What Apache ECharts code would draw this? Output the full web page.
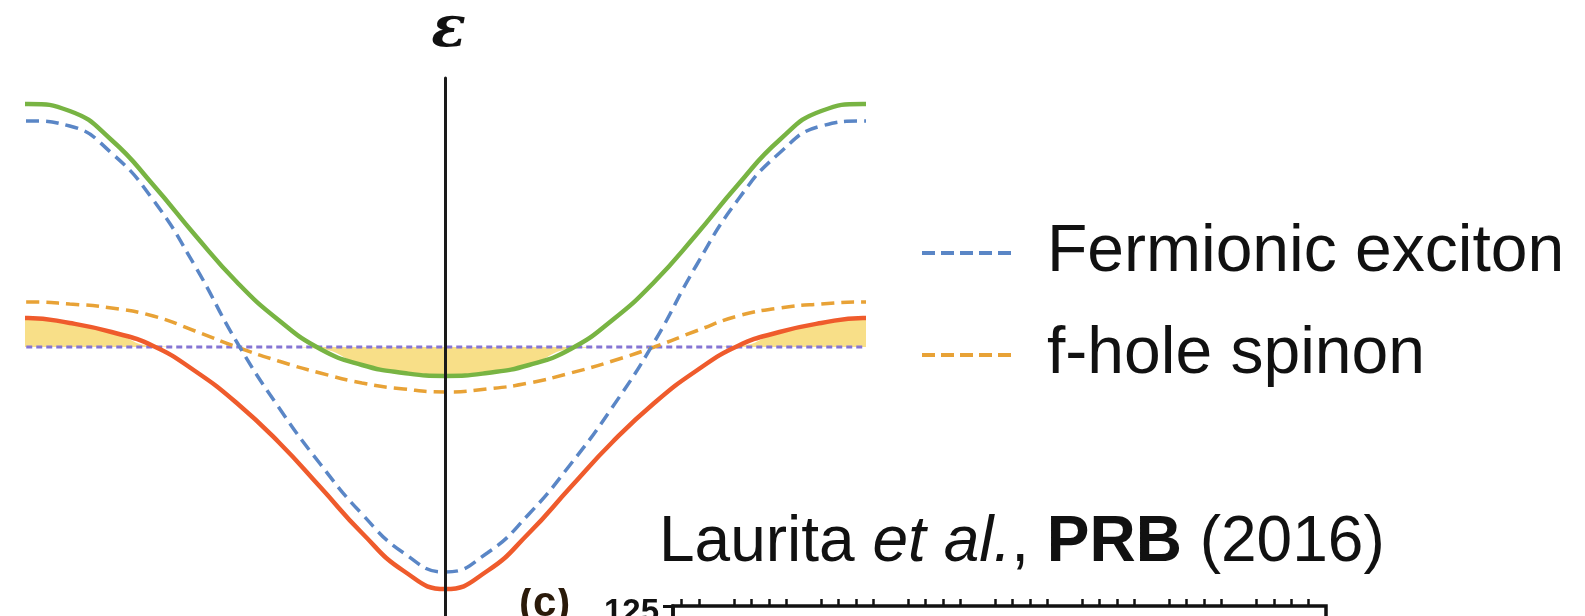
<!DOCTYPE html>
<html>
<head>
<meta charset="utf-8">
<script src="https://cdn.jsdelivr.net/npm/echarts@6/dist/echarts.min.js"></script>
<style>
  html, body { margin: 0; padding: 0; background: #ffffff; }
  #chart { width: 1585px; height: 616px; }
</style>
</head>
<body>
<div id="chart"></div>
<script>
// Momentum in units of pi/a; the outer points at +-1.1 are the zone-boundary
// mirror images of +-0.9 so the bands leave the edges with zero slope
const momentum = [-1.1, -1.0, -0.9, -0.8, -0.7, -0.6, -0.5, -0.4, -0.3, -0.2, -0.1, 0.0,
                  0.1, 0.2, 0.3, 0.4, 0.5, 0.6, 0.7, 0.8, 0.9, 1.0, 1.1];

// Hybridised upper band (green, solid)
const upperBand = [2.36, 2.43, 2.36, 2.07, 1.62, 1.12, 0.65, 0.27, -0.02, -0.18, -0.26, -0.29,
                   -0.26, -0.18, -0.02, 0.27, 0.65, 1.12, 1.62, 2.07, 2.36, 2.43, 2.36];

// Bare fermionic exciton dispersion (blue, dashed)
const excitonBand = [2.21, 2.26, 2.21, 1.94, 1.47, 0.81, 0.05, -0.60, -1.17, -1.67, -2.06, -2.25,
                     -2.06, -1.67, -1.17, -0.60, 0.05, 0.81, 1.47, 1.94, 2.21, 2.26, 2.21];

// Bare f-hole spinon dispersion (orange, dashed)
const spinonBand = [0.43, 0.45, 0.43, 0.39, 0.31, 0.16, 0.00, -0.14, -0.26, -0.36, -0.42, -0.45,
                    -0.42, -0.36, -0.26, -0.14, 0.00, 0.16, 0.31, 0.39, 0.43, 0.45, 0.43];

// Hybridised lower band (red, solid)
const lowerBand = [0.24, 0.29, 0.24, 0.15, 0.01, -0.24, -0.56, -0.95, -1.40, -1.86, -2.24, -2.42,
                   -2.24, -1.86, -1.40, -0.95, -0.56, -0.24, 0.01, 0.15, 0.24, 0.29, 0.24];

// Chemical potential
const fermiLevel = 0;

const legendNames = ['Fermionic exciton', 'f-hole spinon'];

// Partial panel (c) underneath: top axis ticks and the visible y label
const panelMajorTicks = [2.5, 7.5, 12.5, 17.5, 22.5, 27.5, 32.5, 37.5];
const panelMinorTicks = [0.5, 1.5, 3.5, 4.5, 5.5, 6.5, 8.5, 9.5, 10.5, 11.5, 13.5, 14.5,
                         15.5, 16.5, 18.5, 19.5, 20.5, 21.5, 23.5, 24.5, 25.5, 26.5, 28.5,
                         29.5, 30.5, 31.5, 33.5, 34.5, 35.5, 36.5];
const panelYTicks = [125];

const pairs = arr => momentum.map((k, i) => [k, arr[i]]);

// Filled pockets: lower band above the Fermi level, upper band below it
const pocket = momentum.map((k, i) => {
  if (lowerBand[i] > fermiLevel) return [k, lowerBand[i]];
  if (upperBand[i] < fermiLevel) return [k, upperBand[i]];
  return [k, fermiLevel];
});

const SANS = '"Liberation Sans", Arial, Helvetica, sans-serif';
const SMOOTH = 0.5;

const chart = echarts.init(document.getElementById('chart'), null, { renderer: 'canvas' });

chart.setOption({
  backgroundColor: '#ffffff',
  animation: false,
  grid: [
    { left: 28, width: 835, top: 78, height: 538 },
    { left: 673, width: 653, top: 606, height: 400, show: true,
      borderColor: '#111', borderWidth: 3.5, backgroundColor: 'transparent' }
  ],
  xAxis: [
    { type: 'value', gridIndex: 0, min: -1, max: 1, show: false },
    { type: 'value', gridIndex: 1, position: 'top', min: 0, max: 37.5,
      axisLine: { show: true, lineStyle: { color: '#111', width: 3.5 } },
      axisTick: { show: true, inside: false, length: 11, customValues: panelMajorTicks,
                  lineStyle: { color: '#111', width: 3 } },
      axisLabel: { show: false }, splitLine: { show: false } },
    { type: 'value', gridIndex: 1, position: 'top', min: 0, max: 37.5,
      axisLine: { show: false },
      axisTick: { show: true, inside: false, length: 7, customValues: panelMinorTicks,
                  lineStyle: { color: '#111', width: 2.5 } },
      axisLabel: { show: false }, splitLine: { show: false } }
  ],
  yAxis: [
    { type: 'value', gridIndex: 0, min: -2.69, max: 2.69, z: 5,
      name: 'ε', nameLocation: 'end', nameGap: 18,
      nameTextStyle: { fontFamily: '"DejaVu Serif", serif', fontStyle: 'italic',
                       fontWeight: 'bold', fontSize: 57, color: '#111',
                       padding: [0, 0, 0, 6] },
      axisLine: { show: true, onZero: true, lineStyle: { color: '#1a1a1a', width: 3 } },
      axisTick: { show: false }, axisLabel: { show: false }, splitLine: { show: false } },
    { type: 'value', gridIndex: 1, min: 0, max: 125,
      axisLine: { show: true, lineStyle: { color: '#111', width: 3.5 } },
      axisTick: { show: true, length: 10, customValues: panelYTicks,
                  lineStyle: { color: '#111', width: 3 } },
      axisLabel: { show: true, customValues: panelYTicks, margin: 14,
                   formatter: v => '{v|' + v + '}',
                   rich: { v: { fontFamily: SANS, fontWeight: 'bold', fontSize: 33,
                                color: '#111', padding: [14, 0, 0, 0] } } },
      splitLine: { show: false } }
  ],
  legend: {
    data: legendNames,
    orient: 'vertical',
    left: 920, top: 203, padding: 0,
    itemWidth: 92, itemHeight: 20, itemGap: 2,
    selectedMode: false,
    itemStyle: { color: 'rgba(0,0,0,0)', borderWidth: 0, opacity: 0 },
    lineStyle: { width: 4, type: [13, 6] },
    textStyle: { fontFamily: SANS, fontSize: 66, color: '#111', lineHeight: 80,
                 padding: [0, 0, 20, 28] }
  },
  series: [
    { name: 'pocket', type: 'line', xAxisIndex: 0, yAxisIndex: 0, data: pocket,
      smooth: SMOOTH, symbol: 'none', silent: true, z: 1, clip: true,
      lineStyle: { width: 4.5, opacity: 0 },
      areaStyle: { color: '#f8df88', origin: fermiLevel, opacity: 1 } },
    { name: 'Fermi level', type: 'line', xAxisIndex: 0, yAxisIndex: 0, clip: true,
      data: [[-1.1, fermiLevel], [1.1, fermiLevel]], symbol: 'none', z: 2,
      lineStyle: { color: '#8575d4', width: 3, type: [6, 4] } },
    { name: 'f-hole spinon', type: 'line', xAxisIndex: 0, yAxisIndex: 0,
      data: pairs(spinonBand), smooth: SMOOTH, symbol: 'none', z: 3, clip: true,
      itemStyle: { color: '#e8a236' },
      lineStyle: { color: '#e8a236', width: 3.5, type: [13, 7] } },
    { name: 'Fermionic exciton', type: 'line', xAxisIndex: 0, yAxisIndex: 0,
      data: pairs(excitonBand), smooth: SMOOTH, symbol: 'none', z: 3, clip: true,
      itemStyle: { color: '#5a86c6' },
      lineStyle: { color: '#5a86c6', width: 3.5, type: [13, 7] } },
    { name: 'lower band', type: 'line', xAxisIndex: 0, yAxisIndex: 0,
      data: pairs(lowerBand), smooth: SMOOTH, symbol: 'none', z: 4, clip: true,
      lineStyle: { color: '#ef5b2c', width: 4.5 } },
    { name: 'upper band', type: 'line', xAxisIndex: 0, yAxisIndex: 0,
      data: pairs(upperBand), smooth: SMOOTH, symbol: 'none', z: 4, clip: true,
      lineStyle: { color: '#78b443', width: 4.5 } }
  ],
  graphic: [
    { type: 'text', left: 659, top: 511, z: 10,
      style: {
        text: '{n|Laurita }{i|et al.}{n|, }{b|PRB}{n| (2016)}',
        rich: {
          n: { fontFamily: SANS, fontSize: 64, fill: '#111' },
          i: { fontFamily: SANS, fontSize: 64, fill: '#111', fontStyle: 'italic' },
          b: { fontFamily: SANS, fontSize: 64, fill: '#111', fontWeight: 'bold' }
        }
      } },
    { type: 'text', left: 519, top: 583, z: 10,
      style: { text: '(c)', fontFamily: SANS, fontWeight: 'bold', fontSize: 42, fill: '#2a1a0a' } },
    { type: 'rect', shape: { x: 514, y: 572, width: 66, height: 16 }, z: 11,
      style: { fill: '#ffffff' } }
  ]
});
</script>
</body>
</html>
